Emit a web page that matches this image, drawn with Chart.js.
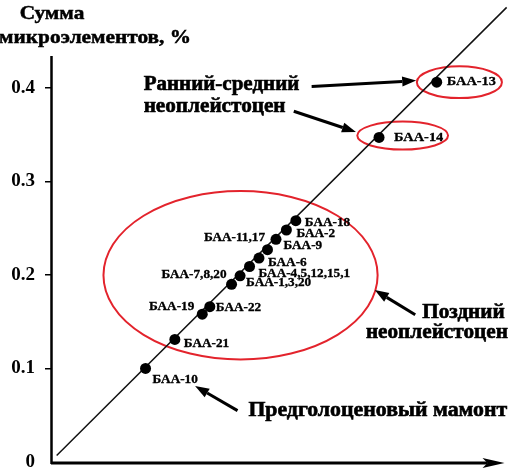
<!DOCTYPE html>
<html>
<head>
<meta charset="utf-8">
<script src="https://cdn.jsdelivr.net/npm/chart.js@4.4.1/dist/chart.umd.min.js"></script>
<style>
  html, body { margin: 0; padding: 0; background: #fff; }
  #chart { display: block; }
</style>
</head>
<body>
<canvas id="chart" width="515" height="472"></canvas>
<script>
// --- Data ---
const sampleLabels = ['БАА-13', 'БАА-14', 'БАА-18', 'БАА-2', 'БАА-11,17', 'БАА-9', 'БАА-6',
    'БАА-4,5,12,15,1', 'БАА-1,3,20', 'БАА-7,8,20', 'БАА-22', 'БАА-19', 'БАА-21', 'БАА-10'];
const xValues = [0.408, 0.347, 0.259, 0.249, 0.238, 0.229, 0.220, 0.210, 0.200, 0.191, 0.168, 0.160, 0.131, 0.100];
const yValues = [0.406, 0.347, 0.258, 0.248, 0.238, 0.227, 0.218, 0.209, 0.199, 0.190, 0.166, 0.158, 0.131, 0.100];
const trendX = [0.006, 0.482];
const trendY = [0.007, 0.486];
const yTicks = [0, 0.1, 0.2, 0.3, 0.4];

// group captions (text, anchor in data units)
const groupTexts = [
    { text: 'Ранний-средний', x: 0.098, y: 0.4035 },
    { text: 'неоплейстоцен', x: 0.098, y: 0.380 },
    { text: 'Поздний', x: 0.3926, y: 0.1595 },
    { text: 'неоплейстоцен', x: 0.3331, y: 0.1384 },
    { text: 'Предголоценовый мамонт', x: 0.2088, y: 0.0549 },
];

// red ellipses round the groups (data units)
const ellipses = [
    { cx: 0.432, cy: 0.406, rx: 0.045, ry: 0.017 },
    { cx: 0.372, cy: 0.349, rx: 0.048, ry: 0.015 },
    { cx: 0.2005, cy: 0.1996, rx: 0.145, ry: 0.090 },
];

// arrows: [tailX, tailY, tipX, tipY] in data units
const arrows = [
    [0.2757, 0.4014, 0.3863, 0.4077],
    [0.2568, 0.3750, 0.3226, 0.3528],
    [0.3853, 0.1574, 0.3425, 0.1838],
    [0.1973, 0.0549, 0.1524, 0.0813],
];

// --- Styles ---
const SERIF = '"Liberation Serif", "Times New Roman", serif';
const RED = '#e3232c';
// label offset from its dot: [dx, dy, align]
const labelOffsets = [
    [10, 0, 'left'], [15, 0, 'left'], [9, 2, 'left'], [10, 4, 'left'], [-11, -1, 'right'],
    [16, -4, 'left'], [9, 5, 'left'], [9, 8, 'left'], [6, 7, 'left'], [-5, -9, 'right'],
    [6, 1, 'left'], [-8, -7, 'right'], [9, 5, 'left'], [7, 12, 'left'],
];
const captionStretch = [1.05, 1.06, 1.06, 1.06, 1.09];

// text widened a little, with a thin outline so it reads as heavy as the scan
function fillTextWide(ctx, text, x, y, stretch, weight) {
    ctx.save();
    ctx.translate(x, y);
    ctx.scale(stretch, 1);
    ctx.fillText(text, 0, 0);
    if (weight) {
        ctx.lineWidth = weight;
        ctx.strokeStyle = '#000';
        ctx.strokeText(text, 0, 0);
    }
    ctx.restore();
}

function drawArrow(ctx, x1, y1, x2, y2) {
    const ang = Math.atan2(y2 - y1, x2 - x1);
    const len = 14, half = 5;
    const bx = x2 - len * Math.cos(ang), by = y2 - len * Math.sin(ang);
    ctx.beginPath();
    ctx.moveTo(x1, y1);
    ctx.lineTo(bx, by);
    ctx.lineWidth = 3;
    ctx.strokeStyle = '#000';
    ctx.stroke();
    ctx.beginPath();
    ctx.moveTo(x2, y2);
    ctx.lineTo(bx + half * Math.sin(ang), by - half * Math.cos(ang));
    ctx.lineTo(bx - half * Math.sin(ang), by + half * Math.cos(ang));
    ctx.closePath();
    ctx.fillStyle = '#000';
    ctx.fill();
}

const decorPlugin = {
    id: 'decor',
    beforeDatasetsDraw(chart) {
        const { ctx, scales: { x, y } } = chart;
        ctx.save();
        ellipses.forEach(e => {
            const cx = x.getPixelForValue(e.cx), cy = y.getPixelForValue(e.cy);
            const rx = x.getPixelForValue(e.cx + e.rx) - cx;
            const ry = cy - y.getPixelForValue(e.cy + e.ry);
            ctx.beginPath();
            ctx.ellipse(cx, cy, rx, ry, 0, 0, Math.PI * 2);
            ctx.lineWidth = 2;
            ctx.strokeStyle = RED;
            ctx.stroke();
        });
        ctx.restore();
    },
    afterDraw(chart) {
        const { ctx, chartArea, scales: { x, y } } = chart;
        ctx.save();

        // axes
        ctx.strokeStyle = '#000';
        ctx.lineWidth = 2.5;
        ctx.beginPath();
        ctx.moveTo(chartArea.left + 0.5, y.getPixelForValue(0.434));
        ctx.lineTo(chartArea.left + 0.5, chartArea.bottom + 2);
        ctx.stroke();
        ctx.lineWidth = 3;
        ctx.beginPath();
        ctx.moveTo(chartArea.left, chartArea.bottom + 1);
        ctx.lineTo(chartArea.right - 22, chartArea.bottom + 1);
        ctx.stroke();
        ctx.beginPath();
        ctx.moveTo(chartArea.right - 5, chartArea.bottom + 1);
        ctx.lineTo(chartArea.right - 27, chartArea.bottom - 4);
        ctx.lineTo(chartArea.right - 22, chartArea.bottom + 1);
        ctx.lineTo(chartArea.right - 27, chartArea.bottom + 6);
        ctx.closePath();
        ctx.fillStyle = '#000';
        ctx.fill();

        // axis title
        ctx.font = 'bold 19px ' + SERIF;
        ctx.textAlign = 'center';
        ctx.textBaseline = 'middle';
        fillTextWide(ctx, 'Сумма', 52, 14, 1.12, 0.5);
        fillTextWide(ctx, 'микроэлементов, %', 95, 38, 1.12, 0.5);

        // point labels
        const meta = chart.getDatasetMeta(0);
        meta.data.forEach((pt, i) => {
            const [dx, dy, align] = labelOffsets[i];
            ctx.font = 'bold ' + (i < 2 ? 12.5 : 11.5) + 'px ' + SERIF;
            ctx.textAlign = align;
            fillTextWide(ctx, sampleLabels[i], pt.x + dx, pt.y + dy, 1.15, 0.3);
        });

        // group captions and arrows
        ctx.font = 'bold 20px ' + SERIF;
        ctx.textAlign = 'left';
        groupTexts.forEach((t, i) => {
            fillTextWide(ctx, t.text, x.getPixelForValue(t.x), y.getPixelForValue(t.y), captionStretch[i], 0.6);
        });
        arrows.forEach(a => {
            drawArrow(ctx, x.getPixelForValue(a[0]), y.getPixelForValue(a[1]),
                x.getPixelForValue(a[2]), y.getPixelForValue(a[3]));
        });
        ctx.restore();
    }
};

new Chart(document.getElementById('chart'), {
    type: 'scatter',
    data: {
        datasets: [{
            data: xValues.map((v, i) => ({ x: v, y: yValues[i] })),
            backgroundColor: '#000',
            borderWidth: 0,
            pointRadius: 5.5,
            clip: false,
        }, {
            data: trendX.map((v, i) => ({ x: v, y: trendY[i] })),
            showLine: true,
            borderColor: '#111',
            borderWidth: 1.5,
            pointRadius: 0,
            clip: false,
        }]
    },
    options: {
        responsive: false,
        animation: false,
        devicePixelRatio: 1,
        layout: { padding: 0 },
        plugins: { legend: { display: false }, tooltip: { enabled: false } },
        scales: {
            x: {
                type: 'linear',
                min: 0, max: 0.485,
                ticks: { display: false },
                grid: { display: false },
                border: { display: false },
                afterFit(scale) {
                    scale.height = 10;
                    scale.paddingLeft = 0;
                    scale.paddingRight = 0;
                }
            },
            y: {
                type: 'linear',
                min: 0, max: 0.488,
                afterBuildTicks(scale) {
                    scale.ticks = yTicks.map(v => ({ value: v }));
                },
                ticks: {
                    color: '#000',
                    padding: 10,
                    font: { family: SERIF, size: 19, weight: 'bold' },
                    callback: v => v === 0 ? '0' : v.toFixed(1)
                },
                grid: {
                    drawOnChartArea: false,
                    tickLength: 6,
                    lineWidth: 1.5,
                    color: ctx => ctx.tick && ctx.tick.value === 0 ? 'rgba(0,0,0,0)' : '#000'
                },
                border: { display: false },
                afterFit(scale) {
                    scale.width = 51;
                    scale.paddingTop = 0;
                    scale.paddingBottom = 0;
                }
            }
        }
    },
    plugins: [decorPlugin]
});
</script>
</body>
</html>
